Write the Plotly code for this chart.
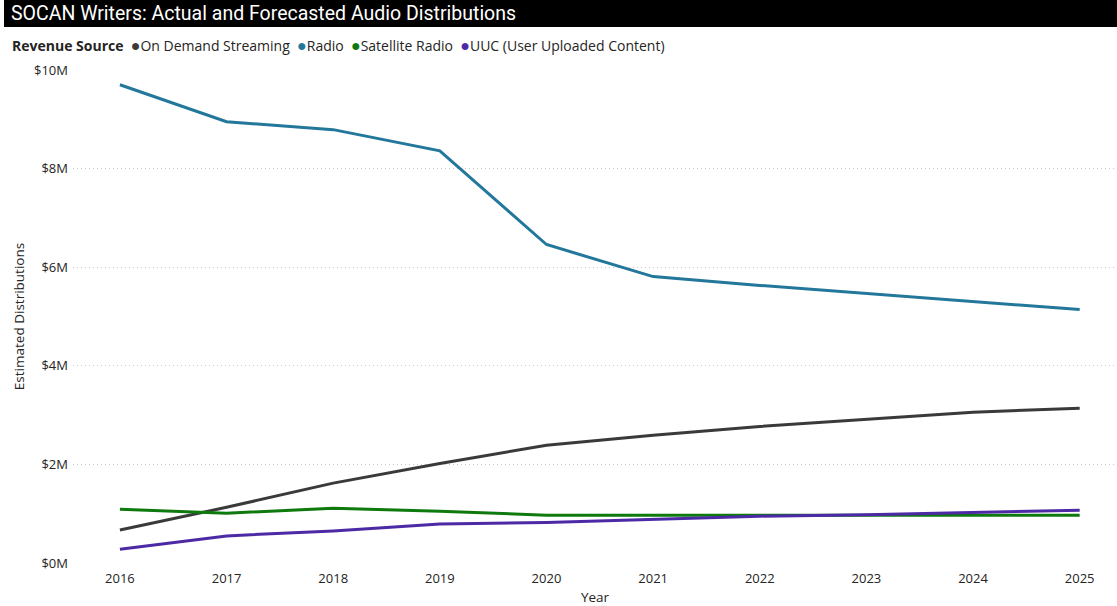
import plotly.graph_objects as go

years = [2016, 2017, 2018, 2019, 2020, 2021, 2022, 2023, 2024, 2025]
series_names = ["On Demand Streaming", "Radio", "Satellite Radio", "UUC (User Uploaded Content)"]
on_demand = [0.67e6, 1.13e6, 1.62e6, 2.02e6, 2.39e6, 2.59e6, 2.77e6, 2.92e6, 3.06e6, 3.14e6]
radio = [9.70e6, 8.95e6, 8.79e6, 8.36e6, 6.46e6, 5.81e6, 5.63e6, 5.47e6, 5.30e6, 5.14e6]
satellite = [1.09e6, 1.01e6, 1.11e6, 1.05e6, 0.97e6, 0.97e6, 0.97e6, 0.97e6, 0.97e6, 0.97e6]
uuc = [0.28e6, 0.55e6, 0.65e6, 0.79e6, 0.82e6, 0.89e6, 0.95e6, 0.98e6, 1.03e6, 1.07e6]
colors = ["#3a3a3a", "#22779b", "#0e7a0e", "#4c2aa6"]
y_tick_vals = [0, 2e6, 4e6, 6e6, 8e6, 10e6]
y_tick_text = ["$0M", "$2M", "$4M", "$6M", "$8M", "$10M"]

W, H = 1117, 606
ML, MR, MT, MB = 73, 0, 70, 43
PW = W - ML - MR
PH = H - MT - MB

def px_x(p):
    return (p - ML) / PW

def px_y(p):
    return (H - MB - p) / PH

fig = go.Figure()
for name, vals, col in zip(series_names, [on_demand, radio, satellite, uuc], colors):
    fig.add_trace(go.Scatter(x=years, y=vals, mode="lines", name=name,
                             line=dict(color=col, width=3), showlegend=False))

font_main = "Open Sans, Noto Sans, sans-serif"

# title bar
fig.add_shape(type="rect", xref="paper", yref="paper",
              x0=px_x(4), x1=px_x(W), y0=px_y(27), y1=px_y(0),
              fillcolor="black", line=dict(width=0), layer="above")
fig.add_annotation(xref="paper", yref="paper", x=px_x(9), y=px_y(14),
                   xanchor="left", yanchor="middle", showarrow=False,
                   text="SOCAN Writers: Actual and Forecasted Audio Distributions",
                   font=dict(family="Roboto, sans-serif", size=19.5, color="white"))

legend_parts = ["<b>Revenue Source</b>"]
for name, col in zip(series_names, colors):
    legend_parts.append(f"<span style='color:{col};font-size:16px'>●</span>{name}")
fig.add_annotation(xref="paper", yref="paper", x=px_x(10), y=px_y(45),
                   xanchor="left", yanchor="middle", showarrow=False,
                   text="  ".join(legend_parts),
                   font=dict(family=font_main, size=14, color="#252423"))

fig.update_layout(
    width=W, height=H,
    margin=dict(l=ML, r=MR, t=MT, b=MB),
    plot_bgcolor="white", paper_bgcolor="white",
    font=dict(family=font_main, color="#605e5c", size=12),
    xaxis=dict(range=[2015.56, 2025.35], tickmode="array", tickvals=years,
               ticktext=[str(y) for y in years], showgrid=False, zeroline=False,
               showline=False, ticks="", ticklabelstandoff=6,
               tickfont=dict(size=13, color="#252423"),
               title=dict(text="Year", font=dict(size=13.5, color="#252423"), standoff=8)),
    yaxis=dict(range=[0, 10e6], tickmode="array", tickvals=y_tick_vals,
               ticktext=y_tick_text, showgrid=True, gridcolor="#c8c8c8",
               griddash="1px,3px", gridwidth=1, zeroline=False, showline=False,
               ticks="", ticklabelstandoff=4, tickfont=dict(size=13, color="#252423"),
               title=dict(text="Estimated Distributions", font=dict(size=13.5, color="#252423"), standoff=6)),
)

fig.write_html("out.html", config={"displayModeBar": False},
               post_script="document.body.style.margin='0';document.body.style.overflow='hidden';")
